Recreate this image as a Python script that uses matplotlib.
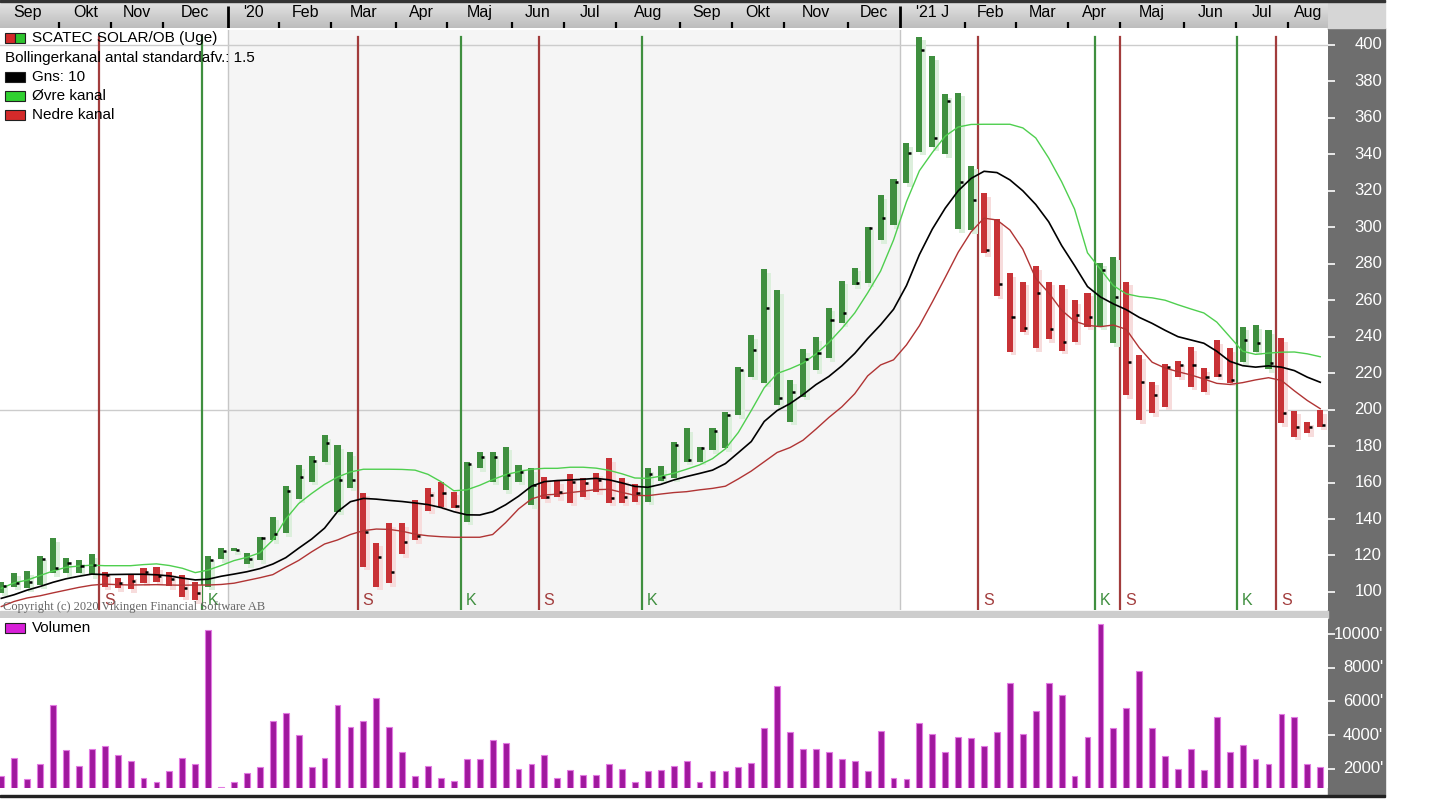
import numpy as np
import pandas as pd
import matplotlib
matplotlib.use('Agg')
import matplotlib.pyplot as plt
from matplotlib.patches import Rectangle
from matplotlib.transforms import blended_transform_factory

plt.rcParams['font.family'] = ['Liberation Sans', 'DejaVu Sans']

# weekly bars, SCATEC SOLAR, first week 2019-09-01
weeks = pd.date_range('2019-09-01', periods=103, freq='7D')

high = [105.7, 110.6, 111.5, 119.7, 129.4, 118.5, 117.6, 120.7, 111.2, 107.5,
        109.3, 113.0, 113.9, 111.2, 109.3, 105.7, 119.7, 124.3, 124.3, 121.2,
        130.4, 141.3, 158.1, 169.6, 174.6, 186.1, 180.6, 176.6, 154.5, 127.0,
        137.7, 137.7, 150.5, 156.9, 160.5, 155.0, 171.5, 176.6, 176.6, 179.7,
        169.6, 168.0, 163.3, 161.4, 164.7, 162.3, 165.5, 173.3, 162.3, 159.2,
        168.0, 169.1, 182.5, 189.8, 179.7, 189.8, 198.9, 223.6, 241.0, 277.0,
        265.6, 216.3, 233.1, 239.7, 256.0, 270.7, 277.9, 300.4, 317.7, 326.5,
        346.1, 404.6, 393.9, 372.9, 373.9, 333.8, 318.7, 304.4, 274.8, 270.2,
        278.8, 270.2, 268.4, 260.1, 264.2, 280.6, 283.9, 270.2, 230.0, 215.4,
        225.0, 226.7, 234.2, 222.7, 238.2, 233.6, 245.5, 246.4, 243.7, 239.1,
        199.4, 193.4, 199.8]
low = [99.6, 102.9, 102.0, 103.8, 110.2, 110.2, 110.6, 109.3, 102.9, 102.0,
       101.5, 105.1, 105.7, 103.3, 97.4, 95.6, 102.9, 117.9, 122.2, 115.4,
       117.6, 128.5, 132.1, 150.8, 160.5, 171.5, 144.0, 157.1, 113.9, 102.9,
       104.8, 120.8, 128.5, 144.6, 146.8, 145.9, 138.6, 168.0, 160.5, 155.9,
       160.5, 147.7, 150.8, 151.9, 149.0, 152.3, 155.0, 149.0, 149.0, 149.5,
       149.5, 161.0, 162.3, 171.5, 171.5, 177.9, 178.8, 197.1, 218.1, 214.4,
       202.6, 193.4, 207.1, 221.8, 228.2, 247.3, 268.4, 269.3, 293.1, 301.3,
       324.1, 341.5, 343.9, 340.2, 298.9, 298.5, 285.7, 262.5, 231.8, 242.8,
       233.6, 238.6, 232.4, 237.3, 245.5, 245.5, 236.4, 208.0, 194.3, 198.0,
       201.6, 218.1, 212.6, 209.9, 218.1, 214.8, 226.3, 231.8, 222.1, 192.5,
       185.2, 187.0, 190.7]
close = [103, 105.1, 105.7, 118, 113.2, 115.9, 114, 114.8, 109.3, 105,
         106, 111, 109, 107, 102, 99.3, 117.6, 122.5, 123, 118,
         129.5, 132, 155.6, 163.3, 172, 181.6, 161.4, 161.4, 133.1, 119.3,
         111.2, 127.6, 130.7, 153.2, 154, 147, 170, 174.2, 174, 164.2,
         166, 158.7, 152, 155, 160.5, 159.5, 161.5, 151.5, 152, 154,
         164.5, 163.3, 180.6, 172.4, 178.8, 188, 197.1, 222, 232.7, 255.6,
         206.2, 209.9, 228, 231.2, 249.2, 252.8, 269.3, 299.5, 305, 325,
         341, 397, 349, 369.5, 325, 315, 287.6, 268.9, 251, 244.6,
         263.8, 244.1, 237.3, 252, 251, 276.6, 262, 226.3, 215.4, 208,
         223.2, 224.5, 224.5, 218.1, 219, 216.3, 238.2, 236.4, 225.4, 198,
         190.7, 190.7, 191.6]

# Bollinger channel (10 weeks, 1.5 std)
upper = [102, 105, 106.5, 109, 111.5, 113.5, 114.2, 114.7, 114.4, 114.4,
         114.4, 115, 115.4, 114.5, 113, 110.6, 112, 114.5, 117.2, 119,
         121.5, 128.5, 140, 148.5, 154, 159, 163, 165.8, 167.3, 167.3,
         167.3, 167.2, 166.8, 164.5, 160.5, 155.5, 156, 158.5, 161.6, 164.3,
         166, 167.3, 167.8, 167.8, 168.4, 168.4, 167.9, 166.7, 164.8, 162.5,
         162.3, 163.5, 165.1, 167.3, 169.7, 173.1, 178.5, 187.5, 199.5, 212,
         219.8, 222.4, 225.5, 230.5, 236.8, 244.5, 253, 264, 276, 293,
         314, 331, 341, 350, 355, 356.4, 356.5, 356.5, 356.5, 354.5,
         349, 338, 325, 310, 286, 277, 268, 263.5, 262, 261.3,
         260, 257.5, 255.2, 253, 248, 240, 232, 230.3, 231, 231.5,
         231.6, 230.6, 229]
middle = [96.5, 98.5, 101, 103, 105.3, 107.2, 108.6, 109.8, 109.5, 109.6,
          109.7, 109.7, 109.4, 108.8, 107.6, 106.6, 107, 108.6, 109.8, 111.1,
          112.8, 115.3, 118.8, 124, 129, 135, 144, 149.5, 151.3, 150.9,
          150.2, 149.6, 148.8, 147.9, 146.3, 144, 142.3, 142.2, 144, 147.8,
          152.5, 158, 160.5, 161.1, 161.4, 161.8, 162.3, 161.5, 159.8, 157.9,
          157.4, 159, 161.4, 163.3, 165, 166.8, 170.4, 176.4, 182.5, 193.5,
          199.5, 203.3, 208.2, 213.7, 218.2, 224, 230.8, 239, 246.5, 255,
          268, 285, 299, 310.5, 320, 326.8, 330.7, 330, 326, 320,
          312.5, 303, 290, 279, 267.5, 261.8, 258, 254.8, 250.6, 247.3,
          243.5, 240, 238.2, 236.4, 232, 226.5, 224.1, 223.3, 224, 223.3,
          221.4, 217.8, 215]
lower = [92, 94.8, 96.7, 97.9, 99.5, 101, 102.5, 103.7, 104.3, 104,
         103.8, 103.9, 104, 103.8, 103.7, 103.8, 103.8, 104.1, 104.8, 106.3,
         107.8, 109.5, 113.5, 117.3, 122, 126.3, 128.5, 131.5, 133.6, 134.5,
         134.3, 133.3, 131.7, 130.8, 130.3, 130, 130, 130, 131.5, 138,
         145.5, 151, 153.2, 153.6, 154.5, 155.3, 156.1, 156.3, 154.6, 153,
         152.8, 153.7, 154.5, 155, 156, 156.8, 158, 162, 166.3, 171.4,
         176.5, 179.2, 183.2, 189.3, 195.7, 201.5, 208.7, 218.5, 224.5, 227.3,
         235.5, 246, 259, 272.5, 286.3, 297.5, 305, 304, 298.5, 288,
         272, 264, 254.5, 248.5, 246.2, 245.5, 246.4, 244, 234, 226,
         222.8, 220.8, 219, 216.8, 214.4, 213.8, 214.8, 216.3, 217.5, 216,
         210.3, 205, 200.5]

volume = [1540, 2630, 1370, 2280, 5780, 3090, 2180, 3190, 3350, 2830,
          2460, 1470, 1210, 1840, 2630, 2280, 10260, 930, 1210, 1740,
          2080, 4810, 5310, 4000, 2080, 2630, 5780, 4500, 4850, 6220,
          4500, 2990, 1540, 2180, 1450, 1290, 2550, 2550, 3720, 3540,
          2000, 2280, 2830, 1450, 1900, 1640, 1640, 2260, 2000, 1190,
          1840, 1900, 2180, 2460, 1190, 1840, 1840, 2100, 2360, 4400,
          6950, 4160, 3170, 3170, 2990, 2550, 2460, 1840, 4240, 1450,
          1370, 4690, 4060, 2990, 3880, 3800, 3350, 4160, 7110, 4060,
          5410, 7110, 6400, 1540, 3880, 10600, 4420, 5600, 7840, 4420,
          2730, 2000, 3170, 1920, 5050, 2990, 3430, 2550, 2280, 5230,
          5050, 2260, 2100]

# buy (K) / sell (S) signals: first bar of the new regime
signals = [(8, 'S'), (16, 'K'), (28, 'S'), (36, 'K'), (42, 'S'), (50, 'K'),
           (76, 'S'), (85, 'K'), (87, 'S'), (96, 'K'), (99, 'S')]

month_labels = ['Sep', 'Okt', 'Nov', 'Dec', "'20", 'Feb', 'Mar', 'Apr', 'Maj',
                'Jun', 'Jul', 'Aug', 'Sep', 'Okt', 'Nov', 'Dec', "'21 J", 'Feb',
                'Mar', 'Apr', 'Maj', 'Jun', 'Jul', 'Aug']
price_ticks = [100, 120, 140, 160, 180, 200, 220, 240, 260, 280, 300, 320,
               340, 360, 380, 400]
vol_ticks = [2000, 4000, 6000, 8000, 10000]

W, H = 1440, 810


def fx(px):
    return px / W


def fy(py):
    return 1 - py / H


fig = plt.figure(figsize=(14.4, 8.1), dpi=100)
fig.patch.set_facecolor('white')

x = np.arange(len(high))
hi = np.array(high)
lo = np.array(low)
xmin, xmax = -0.1, 102.6

ax = fig.add_axes([0, fy(610), fx(1328), (610 - 30) / H])
vax = fig.add_axes([0, fy(788), fx(1328), (788 - 618) / H])
hax = fig.add_axes([0, fy(28), fx(1328), 28 / H])

# frames / panels
fig.add_artist(Rectangle((fx(1328), fy(795)), fx(57), (795 - 28) / H,
                         transform=fig.transFigure, color='#6e6e6e', zorder=0))
fig.add_artist(Rectangle((fx(1328), fy(28)), fx(57), 28 / H,
                         transform=fig.transFigure, color='#d6d6d6', zorder=0))
fig.add_artist(Rectangle((0, fy(618)), fx(1328), 7 / H,
                         transform=fig.transFigure, color='#cdcdcd', zorder=0))
fig.add_artist(Rectangle((0, fy(797)), fx(1385), 2 / H,
                         transform=fig.transFigure, color='#222222', zorder=2))
fig.add_artist(Rectangle((0, fy(1.5)), fx(1385), 1.5 / H,
                         transform=fig.transFigure, color='#333333', zorder=2))

# year boundaries
first_2020 = int(np.argmax(weeks >= pd.Timestamp('2020-01-01')))
first_2021 = int(np.argmax(weeks >= pd.Timestamp('2021-01-01')))

# ---- price panel
ax.set_xlim(xmin, xmax)
ax.set_ylim(90.1, 408.2)
ax.set_facecolor('white')
ax.axvspan(first_2020 - 0.5, first_2021 - 0.5, color='#f5f5f5', lw=0, zorder=0)
for xv in (first_2020 - 0.5, first_2021 - 0.5):
    ax.axvline(xv, color='#c6c6c6', lw=1, zorder=1)
for yv in (200, 400):
    ax.axhline(yv, color='#cccccc', lw=1, zorder=1)

sig = dict(signals)
state = []
cur = 'K'
for i in x:
    if i in sig:
        cur = sig[i]
    state.append(cur)
bar_col = ['#3f8f3f' if s == 'K' else '#c83236' for s in state]
shadow_col = ['#dcefdc' if s == 'K' else '#f7dcdc' for s in state]

sb = blended_transform_factory(ax.transData, ax.transAxes)
for idx, s in signals:
    c = '#a23c3c' if s == 'S' else '#3f8f3f'
    ax.axvline(idx - 0.45, ymax=0.988, color=c, lw=1.6, zorder=2)
    ax.text(idx - 0.45 + 0.4, 0.017, s, transform=sb, color=c, fontsize=11.5,
            ha='left', va='center', zorder=7)

ax.bar(x + 0.28, hi - lo, bottom=lo - 2, width=0.45, color=shadow_col,
       lw=0, zorder=2.5)
ax.bar(x, hi - lo, bottom=lo, width=0.47, color=bar_col, lw=0, zorder=4)
ax.hlines(close, x + 0.12, x + 0.36, colors='black', lw=1.8, zorder=6)

ax.plot(x, upper, color='#4fcf4f', lw=1.0, zorder=5)
ax.plot(x, middle, color='black', lw=1.2, zorder=5)
ax.plot(x, lower, color='#b03434', lw=1.0, zorder=5)

for a in (ax, vax):
    for sp in a.spines.values():
        sp.set_visible(False)
    a.tick_params(axis='x', bottom=False, labelbottom=False)
    a.tick_params(axis='y', left=False, labelleft=False, right=True,
                  labelright=False, direction='out', length=5, width=1.2,
                  color='white')

ax.set_yticks(price_ticks)
tb = blended_transform_factory(fig.transFigure, ax.transData)
for v in price_ticks:
    ax.text(fx(1382), v, str(v), transform=tb, ha='right', va='center',
            color='white', fontsize=12, clip_on=False)

# ---- volume panel
vax.set_xlim(xmin, xmax)
vax.set_ylim(850, 10970)
vax.set_facecolor('white')
vax.bar(x, volume, width=0.45, color='#a0189e', edgecolor='#e27ae2', lw=0.8)
vax.set_yticks(vol_ticks)
vb = blended_transform_factory(fig.transFigure, vax.transData)
for v in vol_ticks:
    vax.text(fx(1383), v, f"{v}'", transform=vb, ha='right', va='center',
             color='white', fontsize=12, clip_on=False)

# ---- month header
hax.set_xlim(xmin, xmax)
hax.set_ylim(0, 1)
grad = np.linspace(0.9, 0.74, 30)[:, None]
hax.imshow(grad, aspect='auto', cmap='gray', vmin=0, vmax=1,
           extent=[xmin, xmax, 0, 1], origin='upper', zorder=0)
hax.set_axis_off()
months = pd.date_range('2019-09-01', '2021-08-01', freq='MS')
mticks = [int(np.argmax(weeks >= m)) - 0.5 for m in months]
for k, (t, lab) in enumerate(zip(mticks, month_labels)):
    right = mticks[k + 1] if k + 1 < len(mticks) else xmax
    mid = (max(t, xmin) + right) / 2 if k else (t + right) / 2
    hax.text(mid, 0.55, lab, ha='center', va='center', fontsize=11.5,
             color='black')
    if months[k].month == 1:
        hax.vlines(t, 0, 0.78, color='black', lw=2)
    elif t > xmin:
        hax.vlines(t, 0, 0.22, color='black', lw=1.6)

# ---- legend texts
def legend_row(ypx, text, colors=None, xtext=32):
    if colors:
        wpx = 20 / len(colors)
        for j, c in enumerate(colors):
            fig.add_artist(Rectangle((fx(5 + j * wpx), fy(ypx + 5)), fx(wpx), 10 / H,
                                     transform=fig.transFigure, facecolor=c,
                                     edgecolor='#202020', lw=0.8, zorder=8))
    fig.text(fx(xtext), fy(ypx), text, ha='left', va='center', fontsize=11,
             color='black', zorder=8)


legend_row(38, 'SCATEC SOLAR/OB (Uge)', ['#d42a2a', '#2ec42e'])
legend_row(58, 'Bollingerkanal antal standardafv.: 1.5', None, xtext=5)
legend_row(77, 'Gns: 10', ['#000000'])
legend_row(96, 'Øvre kanal', ['#30d030'])
legend_row(115, 'Nedre kanal', ['#d42a2a'])
legend_row(628, 'Volumen', ['#d81fd8'])

fig.text(fx(3), fy(607), 'Copyright (c) 2020 Vikingen Financial Software AB',
         ha='left', va='center', fontsize=9, family='Liberation Serif',
         color='#666666', zorder=8)

fig.savefig('out.png', dpi=100, facecolor='white')
